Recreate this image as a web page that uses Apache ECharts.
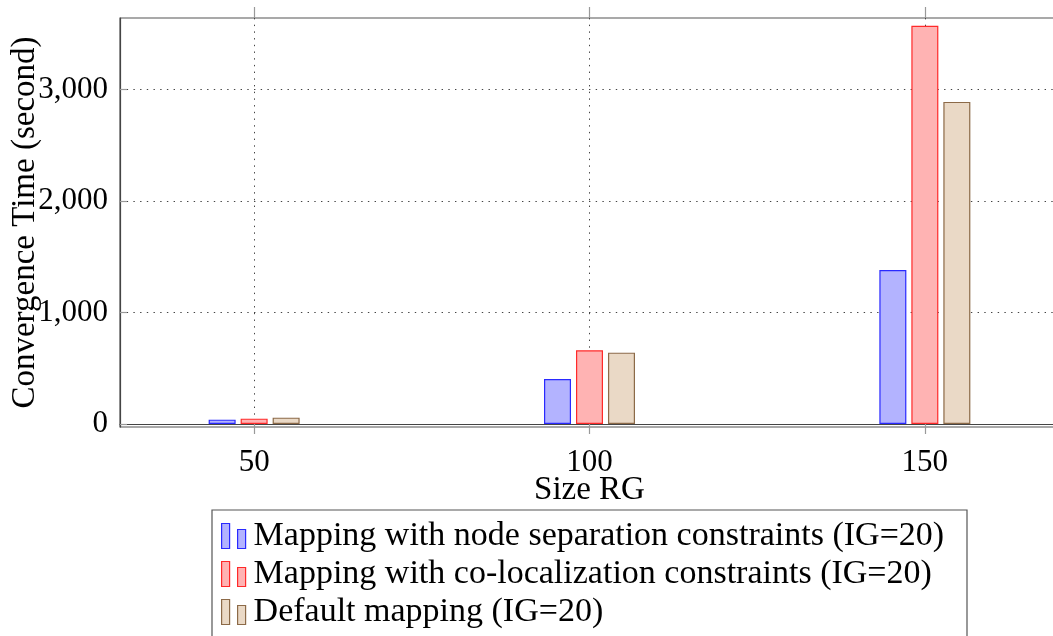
<!DOCTYPE html>
<html>
<head>
<meta charset="utf-8">
<script src="https://cdn.jsdelivr.net/npm/echarts@6/dist/echarts.min.js"></script>
<style>
  html, body { margin: 0; padding: 0; background: #fff; }
  #chart { width: 1053px; height: 636px; }
</style>
</head>
<body>
<div id="chart"></div>
<script>
// Graph sizes (x positions of the bar groups)
const sizes = [50, 100, 150];
// Convergence time in seconds per mapping strategy
const nodeSeparation = [39, 404, 1382];
const coLocalization = [48, 661, 3574];
const defaultMapping = [57, 640, 2890];
const seriesNames = [
  'Mapping with node separation constraints (IG=20)',
  'Mapping with co-localization constraints (IG=20)',
  'Default mapping (IG=20)'
];
const xTicks = [50, 100, 150];
const yTicks = [0, 1000, 2000, 3000];

const FONT = '"Liberation Serif", "DejaVu Serif", serif';
const styles = [
  { color: '#b3b3ff', borderColor: '#2a2aff' },
  { color: '#ffb3b3', borderColor: '#ff2a2a' },
  { color: '#ead9c6', borderColor: '#8c6a48' }
];
// two small bars, as in a ybar legend entry
const legendIcon = 'path://M0,0h8v25h-8zM16,6h8v19h-8z';

const chart = echarts.init(document.getElementById('chart'), null, { renderer: 'canvas' });

const gridLine = { show: true, lineStyle: { color: '#444', width: 1, type: [1.4, 5.3] } };
const fmtThousands = v => Math.round(v).toLocaleString('en-US');

function barSeries(name, values, s) {
  return {
    name: name,
    type: 'bar',
    barWidth: 27,
    barGap: '18.5%',
    data: sizes.map((x, i) => [x, values[i]]),
    itemStyle: { color: s.color, borderColor: s.borderColor, borderWidth: 1.2 },
    emphasis: { disabled: true },
    animation: false
  };
}

chart.setOption({
  animation: false,
  grid: {
    left: 120, top: 18, right: -6, bottom: 209,
    show: true, borderColor: '#555', borderWidth: 1.2,
    containLabel: false, outerBoundsMode: 'none'
  },
  xAxis: [{
    type: 'value', min: 30, max: 170,
    name: 'Size RG', nameLocation: 'middle', nameGap: 47, nameMoveOverlap: false,
    nameTextStyle: { fontFamily: FONT, fontSize: 33, color: '#000' },
    axisLine: { show: true, lineStyle: { color: '#444', width: 1.2 } },
    axisTick: { show: true, customValues: xTicks, length: 10, inside: false, lineStyle: { color: '#999', width: 1.2 } },
    axisLabel: { customValues: xTicks, margin: 20, fontFamily: FONT, fontSize: 31, color: '#000' },
    splitLine: gridLine
  }, {
    type: 'value', min: 30, max: 170, position: 'top',
    axisLine: { show: false },
    axisTick: { show: true, customValues: xTicks, length: 11, inside: false, lineStyle: { color: '#999', width: 1.2 } },
    axisLabel: { show: false },
    splitLine: { show: false }
  }],
  yAxis: {
    type: 'value', min: -27, max: 3643,
    name: 'Convergence Time (second)', nameLocation: 'middle', nameGap: 78, nameMoveOverlap: false,
    nameTextStyle: { fontFamily: FONT, fontSize: 33, color: '#000' },
    axisLine: { show: true, lineStyle: { color: '#444', width: 1.2 } },
    axisTick: { show: true, customValues: yTicks, inside: true, length: 7, lineStyle: { color: '#999', width: 1.2 } },
    axisLabel: { customValues: yTicks, margin: 12, fontFamily: FONT, fontSize: 31, color: '#000', formatter: fmtThousands },
    splitLine: gridLine
  },
  graphic: [{
    type: 'rect', z: 0,
    shape: { x: 212, y: 510, width: 755, height: 200 },
    style: { fill: '#fff', stroke: '#555', lineWidth: 1.2 }
  }],
  legend: {
    orient: 'vertical',
    left: 212, top: 510,
    padding: [9, 18, 0, 9],
    itemGap: 4,
    itemWidth: 24, itemHeight: 25,
    z: 10,
    textStyle: { fontFamily: FONT, fontSize: 34, lineHeight: 30, color: '#000', padding: [0, 0, 0, 3] },
    selectedMode: false,
    data: seriesNames.map((n, i) => ({
      name: n, icon: legendIcon,
      itemStyle: { color: styles[i].color, borderColor: styles[i].borderColor, borderWidth: 1.2 }
    }))
  },
  series: [
    barSeries(seriesNames[0], nodeSeparation, styles[0]),
    barSeries(seriesNames[1], coLocalization, styles[1]),
    barSeries(seriesNames[2], defaultMapping, styles[2])
  ]
});
</script>
</body>
</html>
